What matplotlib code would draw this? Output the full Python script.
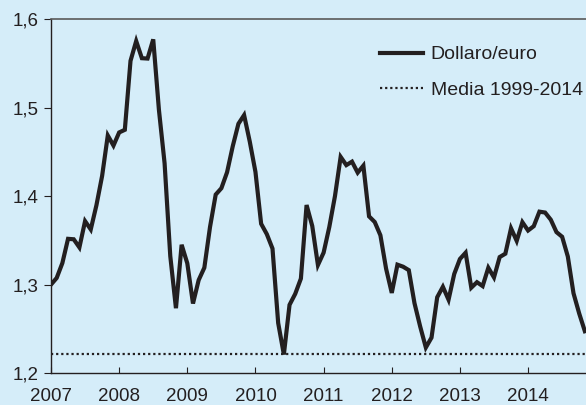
import numpy as np
import matplotlib
matplotlib.use("Agg")
import matplotlib.pyplot as plt
from matplotlib.ticker import FuncFormatter

# Monthly average USD/EUR exchange rate, Jan 2007 - Nov 2014
start_year = 2007
usd_eur = [
    1.2999, 1.3074, 1.3242, 1.3516, 1.3511, 1.3419, 1.3716, 1.3622, 1.3896, 1.4227, 1.4684, 1.4570,  # 2007
    1.4718, 1.4748, 1.5527, 1.5751, 1.5557, 1.5553, 1.5770, 1.4975, 1.4370, 1.3322, 1.2732, 1.3449,  # 2008
    1.3239, 1.2785, 1.3050, 1.3190, 1.3650, 1.4016, 1.4088, 1.4268, 1.4562, 1.4816, 1.4914, 1.4614,  # 2009
    1.4272, 1.3686, 1.3569, 1.3406, 1.2565, 1.2209, 1.2770, 1.2894, 1.3067, 1.3898, 1.3661, 1.3220,  # 2010
    1.3360, 1.3649, 1.3999, 1.4442, 1.4349, 1.4388, 1.4264, 1.4343, 1.3770, 1.3706, 1.3556, 1.3179,  # 2011
    1.2905, 1.3224, 1.3201, 1.3162, 1.2789, 1.2526, 1.2288, 1.2400, 1.2856, 1.2974, 1.2828, 1.3119,  # 2012
    1.3288, 1.3359, 1.2964, 1.3026, 1.2982, 1.3189, 1.3080, 1.3310, 1.3348, 1.3635, 1.3493, 1.3704,  # 2013
    1.3610, 1.3659, 1.3823, 1.3813, 1.3732, 1.3592, 1.3539, 1.3316, 1.2901, 1.2673, 1.2472,          # 2014
]
mean_1999_2014 = 1.222

year_ticks = [2007, 2008, 2009, 2010, 2011, 2012, 2013, 2014]
y_ticks = [1.2, 1.3, 1.4, 1.5, 1.6]

label_rate = "Dollaro/euro"
label_mean = "Media 1999-2014"

ink = "#231f20"
bg = "#d5edf9"
fs_ticks = 13.5
fs_legend = 14

plt.rcParams["font.family"] = ["Liberation Sans", "DejaVu Sans"]

W, H = 586, 405
fig = plt.figure(figsize=(W / 100, H / 100), dpi=100, facecolor=bg)
ax = fig.add_axes([51 / W, 1 - 373 / H, (W - 51) / W, (373 - 19) / H])
ax.set_facecolor(bg)

x = start_year + np.arange(len(usd_eur)) / 12.0
ax.plot(x, usd_eur, color=ink, lw=3.0, solid_joinstyle="miter", label=label_rate, zorder=3)
ax.axhline(mean_1999_2014, color=ink, lw=1.6, linestyle=(0, (1, 1.3)), label=label_mean, zorder=2)

ax.set_xlim(2007, 2014.85)
ax.set_ylim(1.2, 1.6)
ax.set_xticks(year_ticks)
ax.set_xticklabels([str(y) for y in year_ticks])
ax.set_yticks(y_ticks)
ax.yaxis.set_major_formatter(FuncFormatter(lambda v, p: f"{v:.1f}".replace(".", ",")))

ax.spines["right"].set_visible(False)
ax.spines["top"].set_color("#5a5a5a")
ax.spines["top"].set_linewidth(1.2)
for s in ("left", "bottom"):
    ax.spines[s].set_color(ink)
    ax.spines[s].set_linewidth(1.0)

ax.tick_params(axis="x", direction="in", length=4, width=0.8, color=ink, pad=11,
               labelsize=fs_ticks, labelcolor=ink)
ax.tick_params(axis="y", direction="out", length=5, width=0.8, color=ink, pad=4,
               labelsize=fs_ticks, labelcolor=ink)

leg = ax.legend(loc="upper left", bbox_to_anchor=(372.2 / W, 1 - 38 / H),
                bbox_transform=fig.transFigure, frameon=False,
                fontsize=fs_legend, handlelength=2.2, handletextpad=0.41,
                labelspacing=0.91, borderaxespad=0.0, borderpad=0.4)
for t in leg.get_texts():
    t.set_color(ink)

fig.savefig("out.png", dpi=100, facecolor=bg)
